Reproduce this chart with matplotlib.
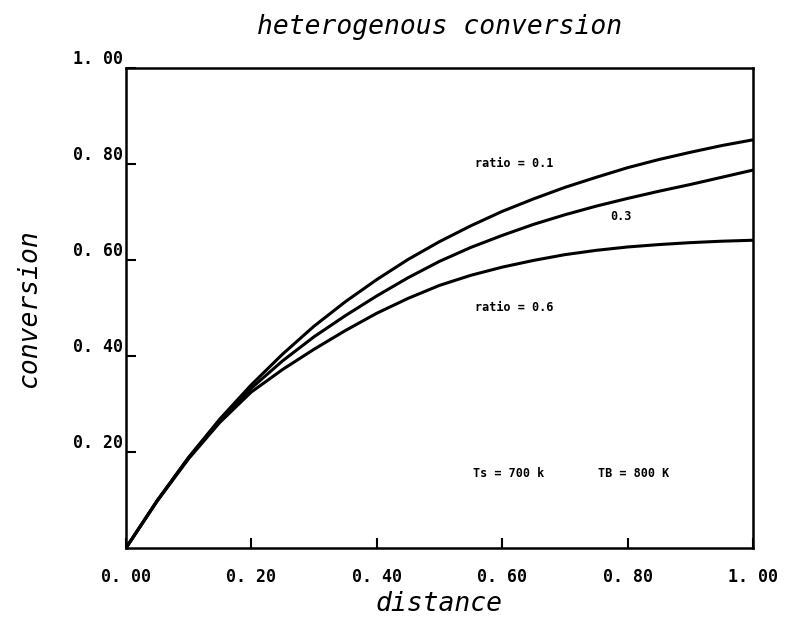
import numpy as np
import matplotlib
matplotlib.use("Agg")
from matplotlib import pyplot as plt

# values
distance = [0.0, 0.05, 0.10, 0.15, 0.20, 0.25, 0.30, 0.35, 0.40, 0.45, 0.50,
            0.55, 0.60, 0.65, 0.70, 0.75, 0.80, 0.85, 0.90, 0.95, 1.00]
conv_ratio_01 = [0.0, 0.099, 0.189, 0.269, 0.340, 0.404, 0.462, 0.513, 0.559, 0.601, 0.638,
                 0.671, 0.701, 0.727, 0.751, 0.772, 0.792, 0.809, 0.824, 0.838, 0.850]
conv_ratio_03 = [0.0, 0.099, 0.188, 0.266, 0.333, 0.390, 0.440, 0.484, 0.525, 0.563, 0.597,
                 0.626, 0.651, 0.674, 0.694, 0.712, 0.728, 0.743, 0.757, 0.772, 0.787]
conv_ratio_06 = [0.0, 0.098, 0.186, 0.262, 0.325, 0.372, 0.414, 0.453, 0.489, 0.520, 0.547,
                 0.568, 0.585, 0.599, 0.611, 0.620, 0.627, 0.632, 0.636, 0.639, 0.641]

x_ticks = [0.0, 0.2, 0.4, 0.6, 0.8, 1.0]
x_ticklabels = ['0. 00', '0. 20', '0. 40', '0. 60', '0. 80', '1. 00']
y_ticks = [0.2, 0.4, 0.6, 0.8, 1.0]
y_ticklabels = ['0. 20', '0. 40', '0. 60', '0. 80', '1. 00']

mono = 'DejaVu Sans Mono'

fig = plt.figure(figsize=(7.91, 6.39), dpi=100)
ax = fig.add_axes([0.159, 0.142, 0.793, 0.752])

for series in [conv_ratio_01, conv_ratio_03, conv_ratio_06]:
    ax.plot(distance, series, color='black', lw=2.2)

ax.set_xlim(0, 1)
ax.set_ylim(0, 1)
for sp in ax.spines.values():
    sp.set_linewidth(1.8)

ax.set_xticks(x_ticks)
ax.set_xticklabels(x_ticklabels, fontfamily=mono, fontweight='bold', fontsize=12)
ax.set_yticks(y_ticks)
ax.set_yticklabels(y_ticklabels, fontfamily=mono, fontweight='bold', fontsize=12)
ax.tick_params(axis='both', direction='in', length=7, width=1.5)
ax.tick_params(axis='x', pad=14)
ax.tick_params(axis='y', pad=2)
for lbl in ax.get_yticklabels():
    lbl.set_verticalalignment('bottom')

ax.set_xlabel('distance', fontfamily=mono, fontstyle='italic', fontsize=19, labelpad=4)
ax.set_ylabel('conversion', fontfamily=mono, fontstyle='italic', fontsize=19, labelpad=22)
ax.set_title('heterogenous conversion', fontfamily=mono, fontstyle='italic', fontsize=19, pad=24)

note = dict(fontfamily=mono, fontweight='bold', fontsize=8.5, ha='center', va='center')
ax.text(0.62, 0.80, 'ratio = 0.1', **note)
ax.text(0.79, 0.69, '0.3', **note)
ax.text(0.62, 0.50, 'ratio = 0.6', **note)
ax.text(0.61, 0.155, 'Ts = 700 k', **note)
ax.text(0.81, 0.155, 'TB = 800 K', **note)

plt.savefig('out.png', dpi=100)
plt.close()
